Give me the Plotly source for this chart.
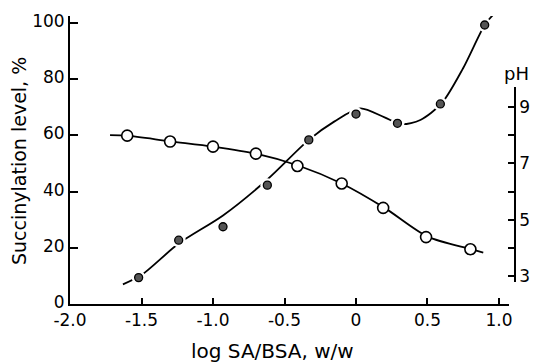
import plotly.graph_objects as go

# --- data ---
# Succinylation level (%), filled circles
succ_x = [-1.52, -1.24, -0.93, -0.62, -0.33, 0.0, 0.29, 0.59, 0.90]
succ_y = [9.4, 22.7, 27.5, 42.3, 58.4, 67.6, 64.3, 71.2, 99.3]
# fitted curve for succinylation
succ_curve_x = [-1.63, -1.5, -1.24, -0.93, -0.62, -0.33, -0.15, 0.03, 0.2, 0.32, 0.45, 0.6, 0.75, 0.9, 0.96]
succ_curve_y = [7.0, 10.3, 21.5, 31.5, 44.3, 58.4, 65.0, 69.6, 66.4, 64.0, 65.5, 71.5, 84.0, 99.3, 103.0]

# pH, open circles
ph_x = [-1.60, -1.30, -1.00, -0.70, -0.41, -0.10, 0.19, 0.49, 0.80]
ph_y = [7.99, 7.78, 7.60, 7.35, 6.91, 6.29, 5.42, 4.38, 3.95]
# fitted curve for pH
ph_curve_x = [-1.72, -1.6, -1.3, -1.0, -0.7, -0.4, -0.1, 0.2, 0.5, 0.8, 0.89]
ph_curve_y = [8.01, 7.99, 7.79, 7.6, 7.35, 6.92, 6.29, 5.42, 4.4, 3.96, 3.83]

x_tickvals = [-2.0, -1.5, -1.0, -0.5, 0, 0.5, 1.0]
x_ticktext = ["-2.0", "-1.5", "-1.0", "-0.5", "0", "0.5", "1.0"]
y_tickvals = [0, 20, 40, 60, 80, 100]
ph_tickvals = [3, 5, 7, 9]
ph_minor_tickvals = [4, 6, 8]

TICKFONT = dict(family="DejaVu Sans", size=17, color="black")
LW = 1.8

fig = go.Figure()

# succinylation curve
fig.add_trace(go.Scatter(
    x=succ_curve_x, y=succ_curve_y, mode="lines",
    line=dict(color="black", width=LW, shape="spline", smoothing=0.8),
    xaxis="x", yaxis="y", hoverinfo="skip"))
# white halo around the filled points (gap in the line)
fig.add_trace(go.Scatter(
    x=succ_x, y=succ_y, mode="markers",
    marker=dict(size=14, color="white", line=dict(width=0)),
    xaxis="x", yaxis="y", hoverinfo="skip"))
# filled points
fig.add_trace(go.Scatter(
    x=succ_x, y=succ_y, mode="markers",
    marker=dict(size=8, color="#555555", line=dict(color="black", width=1.3)),
    xaxis="x", yaxis="y"))

# pH curve
fig.add_trace(go.Scatter(
    x=ph_curve_x, y=ph_curve_y, mode="lines",
    line=dict(color="black", width=LW, shape="spline", smoothing=0.8),
    xaxis="x", yaxis="y2", hoverinfo="skip"))
fig.add_trace(go.Scatter(
    x=ph_x, y=ph_y, mode="markers",
    marker=dict(size=11, color="white", line=dict(color="black", width=1.6)),
    xaxis="x", yaxis="y2"))

W, H = 534, 362
L, R, T, B = 70, 15, 16, 58
pw = W - L - R
x_end = (509 - L) / pw
y2_pos = (515 - L) / pw
ph_h = H - T - B
y2_dom = [(304 - 282) / ph_h, (304 - 87) / ph_h]

fig.update_layout(
    template="none",
    width=W, height=H,
    margin=dict(l=L, r=R, t=T, b=B, autoexpand=False),
    paper_bgcolor="white", plot_bgcolor="rgba(0,0,0,0)",
    showlegend=False,
    xaxis=dict(
        domain=[0, x_end], range=[-2.0, 1.07], automargin=False,
        tickvals=x_tickvals, ticktext=x_ticktext,
        ticks="inside", ticklen=6, tickwidth=1.5, tickcolor="black",
        showline=True, linecolor="black", linewidth=1.8,
        showgrid=False, zeroline=False, tickfont=TICKFONT,
        anchor="y"),
    yaxis=dict(
        range=[0, 102.5], tickvals=y_tickvals, automargin=False,
        ticks="inside", ticklen=8, tickwidth=1.5, tickcolor="black",
        showline=True, linecolor="black", linewidth=2,
        showgrid=False, zeroline=False, tickfont=TICKFONT,
        ticklabelshift=-2,
        anchor="x"),
    yaxis2=dict(
        domain=y2_dom, range=[2.783, 9.722], automargin=False,
        tickvals=ph_tickvals, side="right",
        anchor="free", position=y2_pos,
        ticks="inside", ticklen=6, tickwidth=1.5, tickcolor="black",
        minor=dict(tickvals=ph_minor_tickvals, ticks="inside", ticklen=6, tickwidth=1.5, tickcolor="black"),
        showline=True, linecolor="black", linewidth=1.6,
        showgrid=False, zeroline=False, tickfont=TICKFONT),
    annotations=[
        dict(text="Succinylation level, %", textangle=-90,
             xref="paper", yref="paper",
             x=(19 - L) / pw, y=(304 - 161) / ph_h,
             xanchor="center", yanchor="middle", showarrow=False,
             font=dict(family="DejaVu Sans", size=19, color="black")),
        dict(text="log SA/BSA, w/w",
             xref="paper", yref="paper",
             x=(272 - L) / pw, y=(304 - 351) / ph_h,
             xanchor="center", yanchor="middle", showarrow=False,
             font=dict(family="DejaVu Sans", size=20, color="black")),
        dict(text="pH",
             xref="paper", yref="paper",
             x=(516 - L) / pw, y=(304 - 74) / ph_h,
             xanchor="center", yanchor="middle", showarrow=False,
             font=dict(family="DejaVu Sans", size=18, color="black")),
    ],
)

fig.write_html("out.html")
